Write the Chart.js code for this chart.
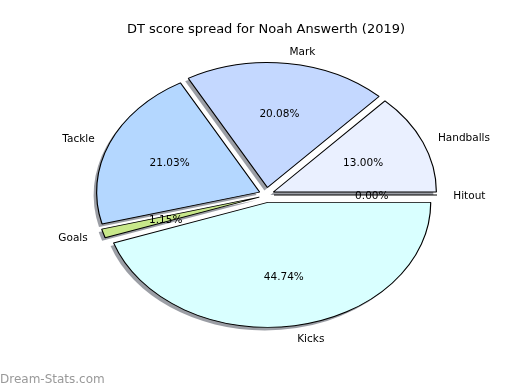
<!DOCTYPE html>
<html>
<head>
<meta charset="utf-8">
<script src="https://cdn.jsdelivr.net/npm/chart.js@4.4.1/dist/chart.umd.min.js"></script>
<style>
  html, body { margin: 0; padding: 0; background: #fff; }
  #wrap { width: 520px; height: 390px; }
</style>
</head>
<body>
<div id="wrap"><canvas id="chartSpread" width="520" height="390"></canvas></div>
<script>
const chartTitle = "DT score spread for Noah Answerth (2019)";
const categories = ["Handballs", "Mark", "Tackle", "Goals", "Kicks", "Hitout"];
const shares = [13.0, 20.08, 21.03, 1.15, 44.74, 0.0];
const sliceColors = ["#eaf0ff", "#c4d8ff", "#b4d7ff", "#c8e88a", "#d9ffff", "#ffffff"];
const watermark = "Dream-Stats.com";

const STRETCH = 1.304; // the pie is an ellipse, wider than tall
const EXPLODE = 7.5;
const RADIUS = 125;
const FONT = "'DejaVu Sans', sans-serif";

// matplotlib goes counter-clockwise from 3 o'clock, chart.js clockwise, so flip the order
const labelsCw = categories.slice().reverse();
const sharesCw = shares.slice().reverse();
const colorsCw = sliceColors.slice().reverse();

function centerX(chart) {
  return (chart.chartArea.left + chart.chartArea.right) / 2;
}

function wedgePath(ctx, el, dx, dy) {
  ctx.beginPath();
  ctx.moveTo(el.x + dx, el.y + dy);
  ctx.arc(el.x + dx, el.y + dy, el.outerRadius, el.startAngle, el.endAngle);
  ctx.closePath();
}

const pieLook = {
  id: "pieLook",
  afterDatasetsUpdate(chart) {
    const meta = chart.getDatasetMeta(0);
    meta.data.forEach((el) => {
      const mid = (el.startAngle + el.endAngle) / 2;
      el.x += (EXPLODE * Math.cos(mid)) / STRETCH;
      el.y += EXPLODE * Math.sin(mid);
    });
  },
  beforeDatasetsDraw(chart) {
    const ctx = chart.ctx;
    const cx = centerX(chart);
    ctx.save();
    ctx.translate(cx, 0);
    ctx.scale(STRETCH, 1);
    ctx.translate(-cx, 0);

    // shadows behind every wedge
    const meta = chart.getDatasetMeta(0);
    meta.data.forEach((el) => {
      if (el.endAngle - el.startAngle <= 0) return;
      wedgePath(ctx, el, -3 / STRETCH, 3);
      ctx.fillStyle = "rgba(55, 62, 75, 0.5)";
      ctx.fill();
    });
  },
  afterDatasetsDraw(chart) {
    const ctx = chart.ctx;
    const meta = chart.getDatasetMeta(0);

    // zero-sized wedge still shows its edge in the original
    meta.data.forEach((el) => {
      if (el.endAngle - el.startAngle > 0) return;
      ctx.beginPath();
      ctx.moveTo(el.x, el.y);
      ctx.lineTo(el.x + el.outerRadius * Math.cos(el.startAngle), el.y + el.outerRadius * Math.sin(el.startAngle));
      ctx.strokeStyle = "#000";
      ctx.lineWidth = 1;
      ctx.stroke();
    });
    ctx.restore();

    const cx = centerX(chart);
    const sx = (x) => cx + (x - cx) * STRETCH;

    ctx.save();
    ctx.fillStyle = "#000";
    ctx.textBaseline = "middle";
    ctx.font = "10.5px " + FONT;
    meta.data.forEach((el, i) => {
      const mid = (el.startAngle + el.endAngle) / 2;
      const r = el.outerRadius;
      const lx = sx(el.x + 1.1 * r * Math.cos(mid));
      const ly = el.y + 1.1 * r * Math.sin(mid) + 1;
      ctx.textAlign = lx > cx ? "left" : "right";
      ctx.fillText(labelsCw[i], lx, ly);

      const px = sx(el.x + 0.6 * r * Math.cos(mid));
      const py = el.y + 0.6 * r * Math.sin(mid) + 1;
      ctx.textAlign = "center";
      ctx.fillText(sharesCw[i].toFixed(2) + "%", px, py);
    });

    ctx.font = "13px " + FONT;
    ctx.textAlign = "center";
    ctx.fillText(chartTitle, 266, 30);

    ctx.font = "12px " + FONT;
    ctx.fillStyle = "#999";
    ctx.textAlign = "left";
    ctx.fillText(watermark, 0, 380);
    ctx.restore();
  }
};

const ctx = document.getElementById("chartSpread");

new Chart(ctx, {
  type: "pie",
  data: {
    labels: labelsCw,
    datasets: [
      {
        data: sharesCw,
        backgroundColor: colorsCw,
        borderColor: "#000",
        borderWidth: 0.9,
        radius: RADIUS,
        clip: false
      }
    ]
  },
  options: {
    responsive: false,
    animation: false,
    events: [],
    devicePixelRatio: 1,
    rotation: 90,
    layout: { padding: { left: 13, right: 0, top: 0, bottom: 0 } },
    plugins: {
      legend: { display: false },
      title: { display: false },
      tooltip: { enabled: false }
    }
  },
  plugins: [pieLook]
});
</script>
</body>
</html>
